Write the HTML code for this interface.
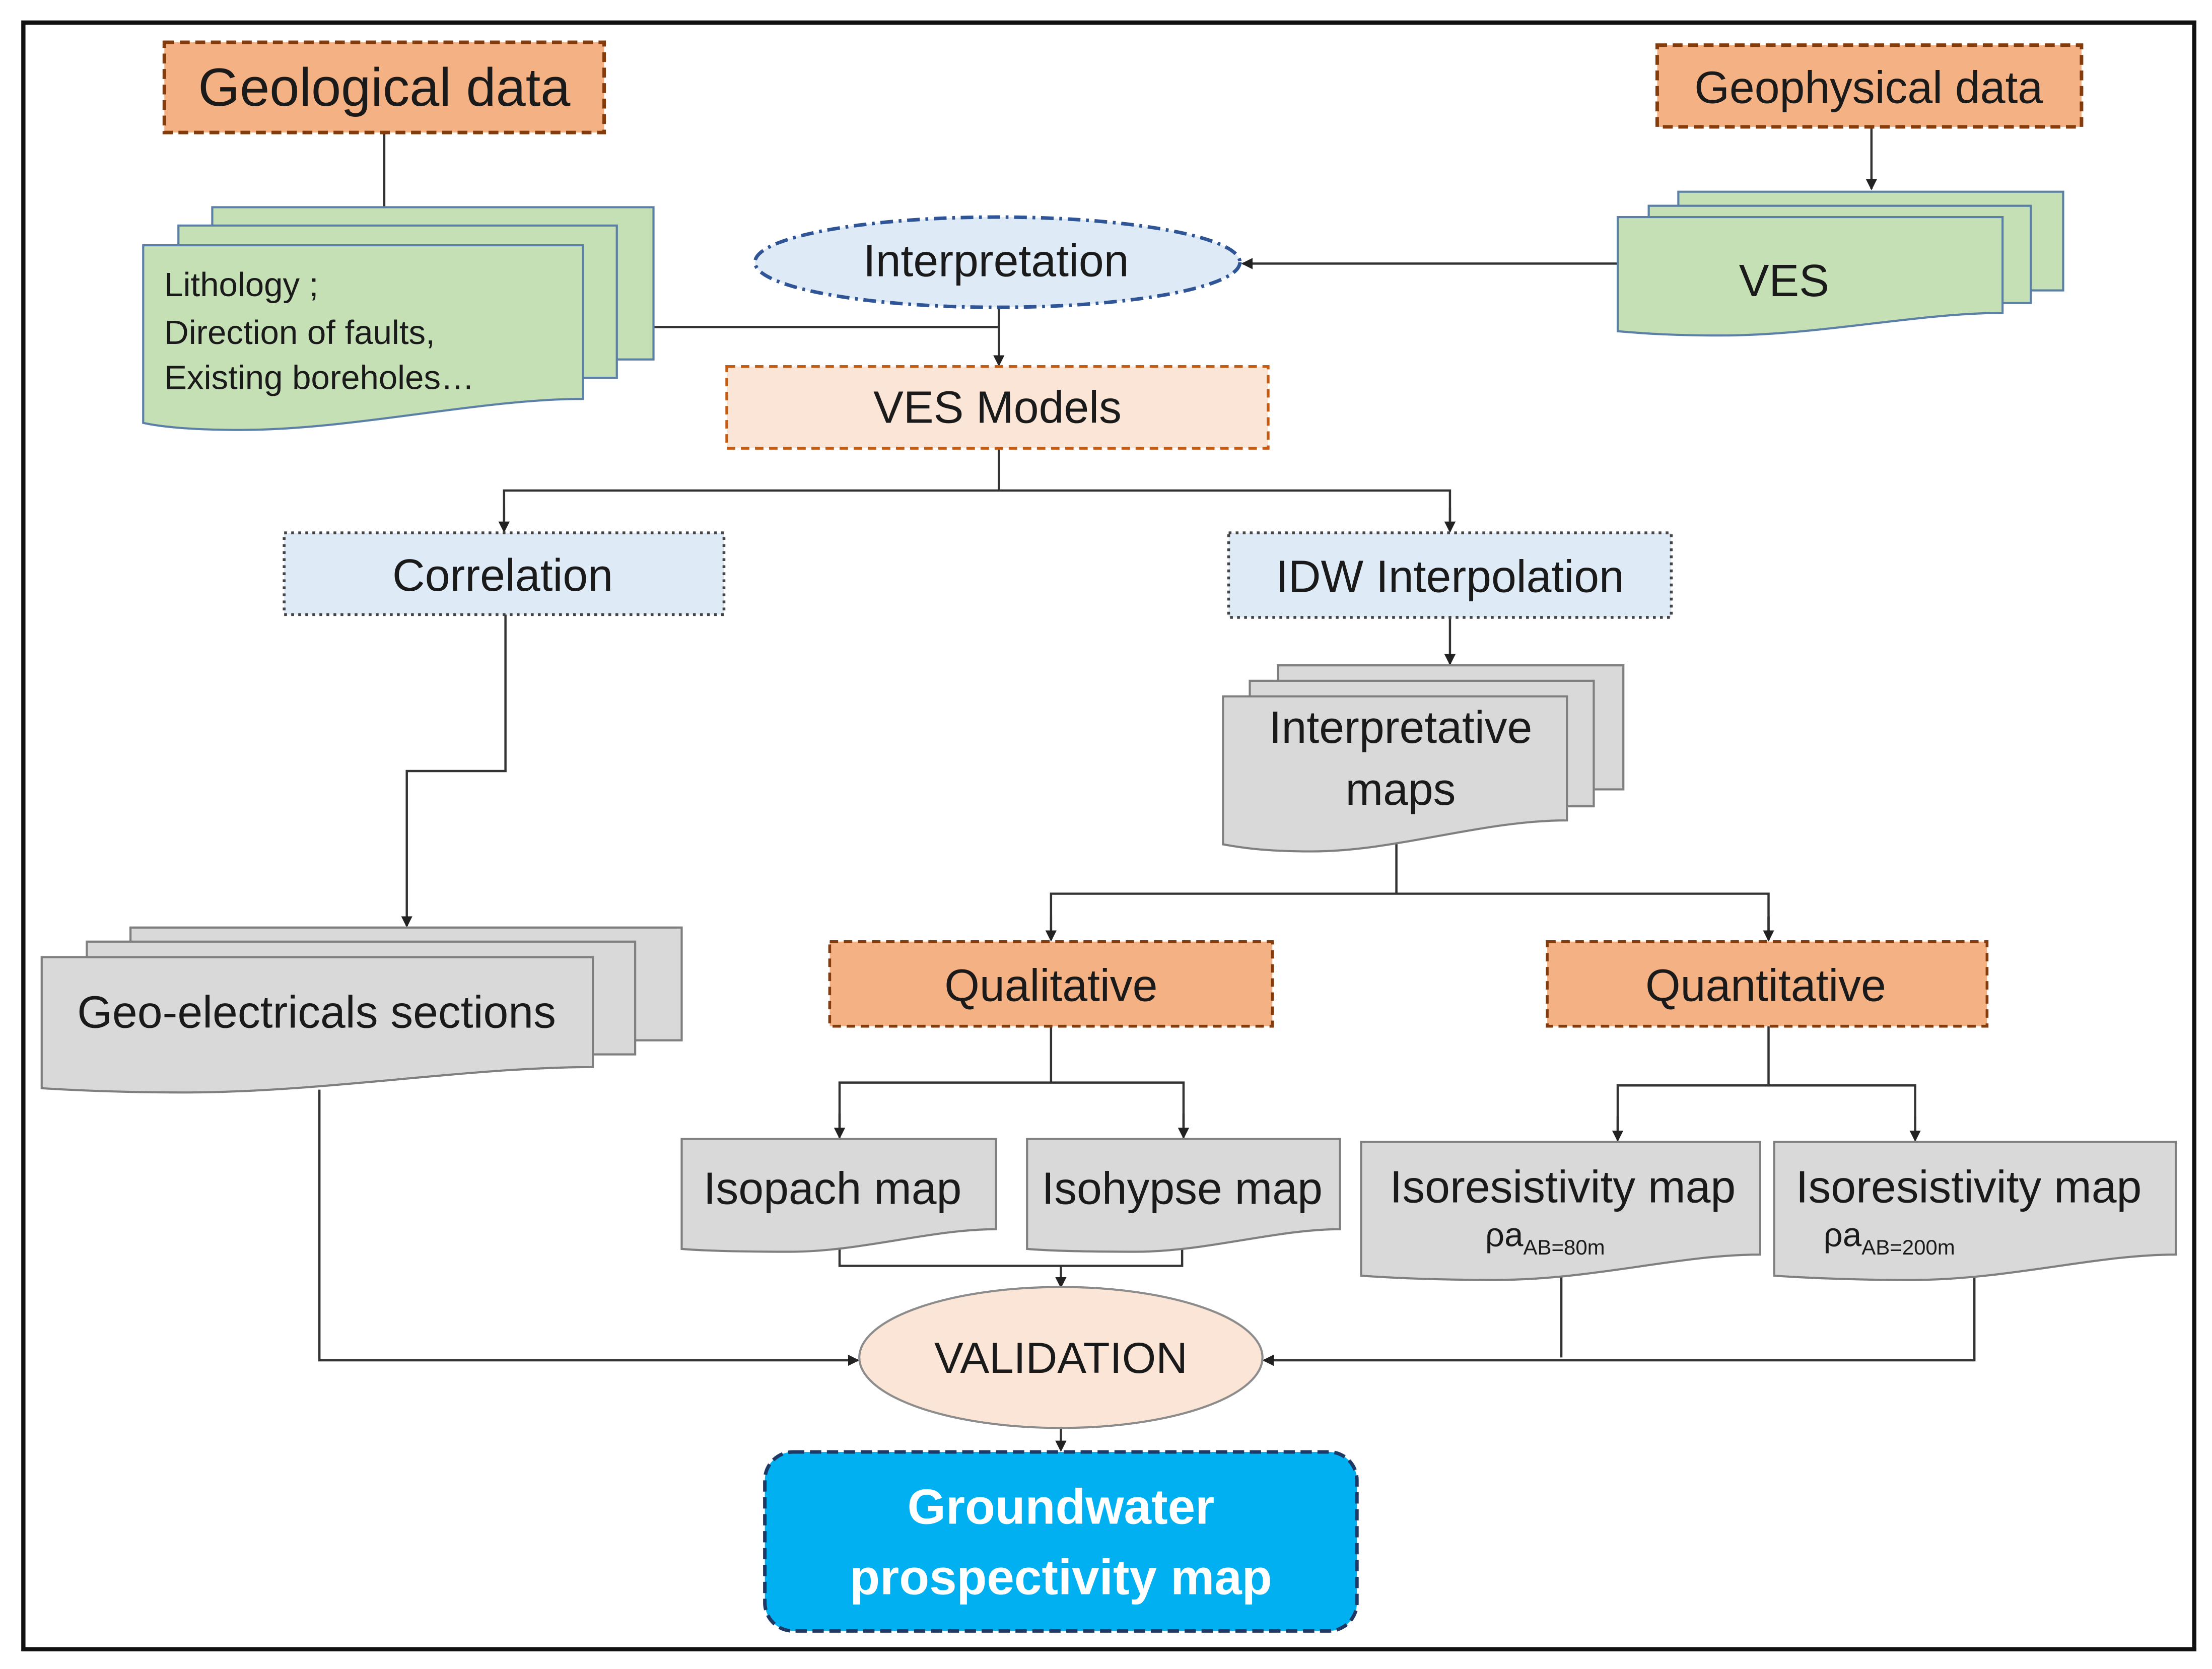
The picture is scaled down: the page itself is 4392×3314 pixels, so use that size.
<!DOCTYPE html>
<html><head><meta charset="utf-8"><style>
html,body{margin:0;padding:0;background:#fff;}
svg{display:block;}
text{font-family:"Liberation Sans",sans-serif;fill:#1a1a1a;}
</style></head><body>
<svg width="4392" height="3314" viewBox="0 0 1568 1184" xmlns="http://www.w3.org/2000/svg">
<defs>
<marker id="a" markerWidth="8" markerHeight="8" refX="7" refY="4" orient="auto" markerUnits="userSpaceOnUse">
<path d="M0,0 L8,4 L0,8 z" fill="#222"/></marker>
</defs>
<rect x="0" y="0" width="1568" height="1184" fill="#fff"/>
<rect x="16" y="16" width="1540" height="1154" fill="none" stroke="#111" stroke-width="3"/>

<g stroke="#333" stroke-width="1.6" fill="none">
<line x1="272" y1="94" x2="272" y2="148"/>
<line x1="1327" y1="90" x2="1327" y2="134" marker-end="url(#a)"/>
<line x1="1147" y1="187" x2="881" y2="187" marker-end="url(#a)"/>
<polyline points="463,232 708,232"/>
<line x1="708" y1="218" x2="708" y2="259" marker-end="url(#a)"/>
<line x1="708" y1="318" x2="708" y2="348"/>
<polyline points="357,376 357,348 1028,348 1028,376"/>
<line x1="357" y1="360" x2="357" y2="377" marker-end="url(#a)"/>
<line x1="1028" y1="360" x2="1028" y2="377" marker-end="url(#a)"/>
<polyline points="358,436 358,547 288,547 288,657" marker-end="url(#a)"/>
<line x1="1028" y1="438" x2="1028" y2="471" marker-end="url(#a)"/>
<line x1="990" y1="598" x2="990" y2="634"/>
<polyline points="745,666 745,634 1254,634 1254,666"/>
<line x1="745" y1="650" x2="745" y2="667" marker-end="url(#a)"/>
<line x1="1254" y1="650" x2="1254" y2="667" marker-end="url(#a)"/>
<line x1="745" y1="728" x2="745" y2="768"/>
<polyline points="595,806 595,768 839,768 839,806"/>
<line x1="595" y1="790" x2="595" y2="807" marker-end="url(#a)"/>
<line x1="839" y1="790" x2="839" y2="807" marker-end="url(#a)"/>
<line x1="1254" y1="728" x2="1254" y2="770"/>
<polyline points="1147,808 1147,770 1358,770 1358,808"/>
<line x1="1147" y1="792" x2="1147" y2="809" marker-end="url(#a)"/>
<line x1="1358" y1="792" x2="1358" y2="809" marker-end="url(#a)"/>
<polyline points="595,884 595,898 838,898 838,884"/>
<line x1="752" y1="898" x2="752" y2="913" marker-end="url(#a)"/>
<polyline points="226,773 226,965 608,965" marker-end="url(#a)"/>
<polyline points="1107,905 1107,963"/>
<polyline points="1400,905 1400,965 896,965" marker-end="url(#a)"/>
<line x1="752" y1="1013" x2="752" y2="1029" marker-end="url(#a)"/>
</g>

<!-- Geological data -->
<rect x="116" y="30" width="312" height="64" fill="#f4b183" stroke="#843c0c" stroke-width="2.5" stroke-dasharray="7,4"/>
<text x="272" y="75" font-size="38" text-anchor="middle">Geological data</text>
<rect x="1175" y="32" width="301" height="58" fill="#f4b183" stroke="#843c0c" stroke-width="2.5" stroke-dasharray="7,4"/>
<text x="1325" y="73" font-size="32" text-anchor="middle">Geophysical data</text>

<!-- green stack geological -->
<g fill="#c5e0b4" stroke="#5b7fa6" stroke-width="1.5">
<path d="M150,147 H463 V255 H150 Z"/>
<path d="M126,160 H437 V268 H126 Z"/>
<path d="M101,174 H413 V283 C340,283 250,305 170,305 C130,305 110,302 101,300 Z"/>
</g>
<text x="116" y="210" font-size="24">Lithology ;</text>
<text x="116" y="244" font-size="24">Direction of faults,</text>
<text x="116" y="276" font-size="24">Existing boreholes…</text>

<!-- VES stack -->
<g fill="#c5e0b4" stroke="#5b7fa6" stroke-width="1.5">
<path d="M1190,136 H1463 V206 H1190 Z"/>
<path d="M1169,146 H1440 V215 H1169 Z"/>
<path d="M1147,154 H1420 V222 C1360,222 1290,238 1220,238 C1180,238 1160,236 1147,235 Z"/>
</g>
<text x="1265" y="210" font-size="32" text-anchor="middle">VES</text>

<ellipse cx="707" cy="186" rx="172" ry="32" fill="#deebf7" stroke="#2f5597" stroke-width="2.5" stroke-dasharray="9,4,2,4"/>
<text x="706" y="196" font-size="32" text-anchor="middle">Interpretation</text>

<rect x="515" y="260" width="384" height="58" fill="#fbe5d6" stroke="#c55a11" stroke-width="2" stroke-dasharray="6,4"/>
<text x="707" y="300" font-size="32" text-anchor="middle">VES Models</text>

<rect x="201" y="378" width="312" height="58" fill="#deebf7" stroke="#444" stroke-width="2" stroke-dasharray="2,3"/>
<text x="356" y="419" font-size="32" text-anchor="middle">Correlation</text>
<rect x="871" y="378" width="314" height="60" fill="#deebf7" stroke="#444" stroke-width="2" stroke-dasharray="2,3"/>
<text x="1028" y="420" font-size="32" text-anchor="middle">IDW Interpolation</text>

<!-- Interpretative maps stack -->
<g fill="#d9d9d9" stroke="#7f7f7f" stroke-width="1.5">
<path d="M906,472 H1151 V560 H906 Z"/>
<path d="M886,483 H1130 V572 H886 Z"/>
<path d="M867,494 H1111 V582 C1050,582 990,604 930,604 C895,604 878,601 867,599 Z"/>
</g>
<text x="993" y="527" font-size="32" text-anchor="middle">Interpretative</text>
<text x="993" y="571" font-size="32" text-anchor="middle">maps</text>

<!-- Geo-electricals -->
<g fill="#d9d9d9" stroke="#7f7f7f" stroke-width="1.5">
<path d="M92,658 H483 V738 H92 Z"/>
<path d="M61,668 H450 V748 H61 Z"/>
<path d="M29,679 H420 V757 C330,757 230,775 130,775 C80,775 45,773 29,772 Z"/>
</g>
<text x="224" y="729" font-size="32" text-anchor="middle">Geo-electricals  sections</text>

<rect x="588" y="668" width="314" height="60" fill="#f4b183" stroke="#843c0c" stroke-width="2" stroke-dasharray="6,4"/>
<text x="745" y="710" font-size="32" text-anchor="middle">Qualitative</text>
<rect x="1097" y="668" width="312" height="60" fill="#f4b183" stroke="#843c0c" stroke-width="2" stroke-dasharray="6,4"/>
<text x="1252" y="710" font-size="32" text-anchor="middle">Quantitative</text>

<g fill="#d9d9d9" stroke="#7f7f7f" stroke-width="1.5">
<path d="M483,808 H706 V872 C660,872 610,888 560,888 C520,888 495,887 483,886 Z"/>
<path d="M728,808 H950 V872 C905,872 855,888 805,888 C765,888 740,887 728,886 Z"/>
<path d="M965,810 H1248 V890 C1190,890 1130,908 1060,908 C1010,908 980,906 965,905 Z"/>
<path d="M1258,810 H1543 V890 C1485,890 1425,908 1355,908 C1305,908 1273,906 1258,905 Z"/>
</g>
<text x="590" y="854" font-size="32" text-anchor="middle">Isopach map</text>
<text x="838" y="854" font-size="32" text-anchor="middle">Isohypse map</text>
<text x="1108" y="853" font-size="32" text-anchor="middle">Isoresistivity map</text>
<text x="1053" y="884" font-size="24">ρa<tspan font-size="15" dy="6">AB=80m</tspan></text>
<text x="1396" y="853" font-size="32" text-anchor="middle">Isoresistivity map</text>
<text x="1293" y="884" font-size="24">ρa<tspan font-size="15" dy="6">AB=200m</tspan></text>

<ellipse cx="752" cy="963" rx="143" ry="50" fill="#fbe5d6" stroke="#8c8c8c" stroke-width="1.5"/>
<text x="752" y="974" font-size="31" text-anchor="middle">VALIDATION</text>

<rect x="542" y="1030" width="420" height="127" rx="20" ry="20" fill="#00b0f0" stroke="#1f3864" stroke-width="2.5" stroke-dasharray="8,4"/>
<text x="752" y="1081" font-size="35" font-weight="bold" text-anchor="middle" style="fill:#fff">Groundwater</text>
<text x="752" y="1131" font-size="35" font-weight="bold" text-anchor="middle" style="fill:#fff">prospectivity map</text>
</svg>
</body></html>
